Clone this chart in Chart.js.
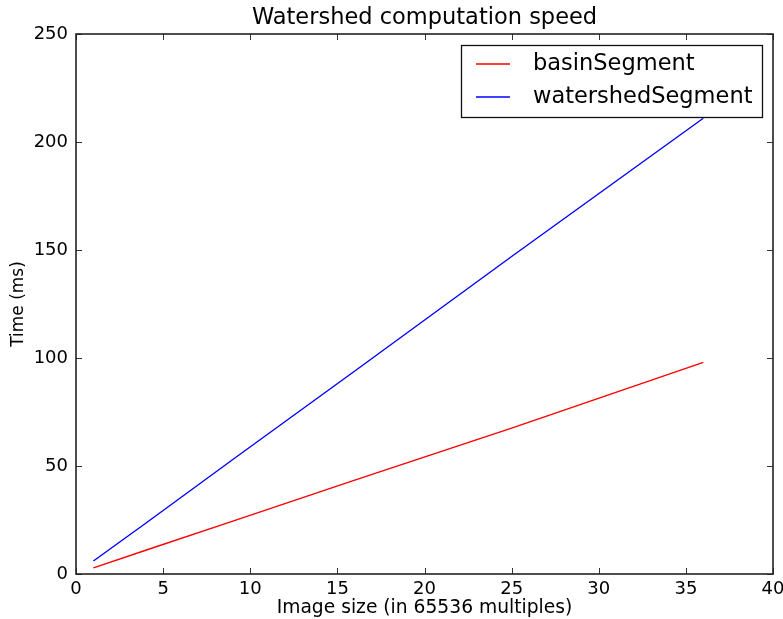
<!DOCTYPE html>
<html>
<head>
<meta charset="utf-8">
<script src="https://cdn.jsdelivr.net/npm/chart.js@4.4.1/dist/chart.umd.min.js"></script>
<style>
  html, body { margin: 0; padding: 0; background: #fff; }
  #wrap { width: 783px; height: 619px; position: relative; }
</style>
</head>
<body>
<div id="wrap"><canvas id="chart" width="783" height="619"></canvas></div>
<script>
// image size in 65536-pixel multiples
const sizes = [1, 4, 9, 16, 25, 36];
const basinTimes = [2.8, 11, 24.5, 43.5, 67.5, 98];
const watershedTimes = [6, 23.5, 53, 94, 147, 211];
const xTicks = [0, 5, 10, 15, 20, 25, 30, 35, 40];
const yTicks = [0, 50, 100, 150, 200, 250];

const FONT = "'DejaVu Sans', sans-serif";

// matplotlib-classic style: box frame, inward ticks on all sides, legend inside
const frameAndLegend = {
    id: 'frameAndLegend',
    afterDraw(chart) {
        const ctx = chart.ctx;
        const a = chart.chartArea;
        const xs = chart.scales.x, ys = chart.scales.y;
        ctx.save();
        ctx.strokeStyle = '#333';
        ctx.lineWidth = 1;
        ctx.beginPath();
        xTicks.forEach(v => {
            const px = Math.round(xs.getPixelForValue(v)) + 0.5;
            ctx.moveTo(px, a.bottom); ctx.lineTo(px, a.bottom - 6);
            ctx.moveTo(px, a.top); ctx.lineTo(px, a.top + 6);
        });
        yTicks.forEach(v => {
            const py = Math.round(ys.getPixelForValue(v)) + 0.5;
            ctx.moveTo(a.left, py); ctx.lineTo(a.left + 6, py);
            ctx.moveTo(a.right, py); ctx.lineTo(a.right - 6, py);
        });
        ctx.stroke();
        ctx.strokeStyle = '#222';
        ctx.lineWidth = 1.6;
        ctx.strokeRect(a.left, a.top, a.right - a.left, a.bottom - a.top);

        // title
        ctx.fillStyle = '#000';
        ctx.font = '22.5px ' + FONT;
        ctx.textAlign = 'center';
        ctx.textBaseline = 'middle';
        ctx.fillText('Watershed computation speed', (a.left + a.right) / 2, 18);

        // legend
        const lx = 461, ly = 45, lw = 301, lh = 72;
        ctx.fillStyle = '#fff';
        ctx.fillRect(lx, ly, lw, lh);
        ctx.strokeStyle = '#111';
        ctx.lineWidth = 1.3;
        ctx.strokeRect(lx + 0.5, ly + 0.5, lw, lh);
        ctx.font = '22.5px ' + FONT;
        ctx.textAlign = 'left';
        chart.data.datasets.forEach((ds, i) => {
            const y = ly + 19 + i * 33;
            ctx.strokeStyle = ds.borderColor;
            ctx.lineWidth = 1.3;
            ctx.beginPath();
            ctx.moveTo(lx + 15, y); ctx.lineTo(lx + 49, y);
            ctx.stroke();
            ctx.fillStyle = '#000';
            ctx.fillText(ds.label, lx + 72, y);
        });
        ctx.restore();
    }
};

new Chart(document.getElementById('chart'), {
    type: 'line',
    data: {
        datasets: [
            {
                label: 'basinSegment',
                data: sizes.map((s, i) => ({ x: s, y: basinTimes[i] })),
                borderColor: '#ff0000',
                borderWidth: 1.4,
                pointRadius: 0,
                tension: 0
            },
            {
                label: 'watershedSegment',
                data: sizes.map((s, i) => ({ x: s, y: watershedTimes[i] })),
                borderColor: '#0000ff',
                borderWidth: 1.4,
                pointRadius: 0,
                tension: 0
            }
        ]
    },
    options: {
        responsive: false,
        animation: false,
        layout: { padding: { top: 34, right: 10, left: 0, bottom: 0 } },
        plugins: {
            legend: { display: false },
            title: { display: false },
            tooltip: { enabled: false }
        },
        scales: {
            x: {
                type: 'linear',
                min: 0, max: 40,
                afterFit(s) { s.height = 45; s.paddingLeft = 0; s.paddingRight = 0; },
                afterBuildTicks(s) { s.ticks = xTicks.map(v => ({ value: v })); },
                grid: { display: false, drawTicks: false },
                border: { display: false },
                ticks: { color: '#000', padding: 5, font: { family: FONT, size: 18 }, maxRotation: 0 },
                title: {
                    display: true,
                    text: 'Image size (in 65536 multiples)',
                    color: '#000',
                    font: { family: FONT, size: 18.7 },
                    padding: { top: 0, bottom: 0 }
                }
            },
            y: {
                type: 'linear',
                min: 0, max: 250,
                afterFit(s) { s.width = 76; s.paddingTop = 0; s.paddingBottom = 0; },
                afterBuildTicks(s) { s.ticks = yTicks.map(v => ({ value: v })); },
                grid: { display: false, drawTicks: false },
                border: { display: false },
                ticks: { color: '#000', padding: 8, font: { family: FONT, size: 18 } },
                title: {
                    display: true,
                    text: 'Time (ms)',
                    color: '#000',
                    font: { family: FONT, size: 17 },
                    padding: { top: 8, bottom: 0 }
                }
            }
        }
    },
    plugins: [frameAndLegend]
});
</script>
</body>
</html>
